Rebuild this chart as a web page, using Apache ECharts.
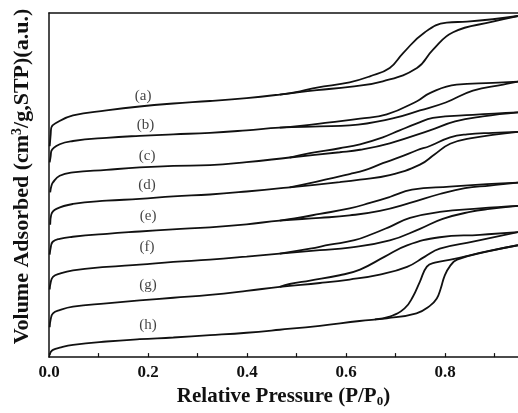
<!DOCTYPE html>
<html>
<head>
<meta charset="UTF-8">
<title>N2 isotherms</title>
<script src="https://cdn.jsdelivr.net/npm/echarts@6/dist/echarts.min.js"></script>
<style>
  html, body { margin: 0; padding: 0; background: #fff; }
  #chart { width: 518px; height: 413px; }
</style>
</head>
<body>
<div id="chart"></div>
<script>
// relative pressure (P/P0) and volume adsorbed (a.u., curves stacked with offsets)
// adsorption = lower branch, desorption = upper branch of the loop
var aAdsP = [0.0014, 0.0034, 0.0048, 0.015, 0.0485, 0.116, 0.183, 0.251, 0.325, 0.399, 0.466, 0.541, 0.607, 0.674, 0.743, 0.775, 0.816, 0.896, 0.947];
var aAdsV = [212, 224, 231, 235.7, 243, 248, 252, 255, 257.5, 260.5, 264, 268.5, 271.7, 277.3, 290.7, 309, 326.7, 337.3, 343];
var aDesP = [0.466, 0.507, 0.541, 0.607, 0.648, 0.688, 0.715, 0.759, 0.803, 0.844, 0.896, 0.947];
var aDesV = [264, 267.3, 271, 276.3, 282.3, 290.7, 305.7, 326.7, 336.3, 337.3, 339.7, 343];

var bAdsP = [0.0014, 0.0034, 0.0048, 0.0216, 0.0485, 0.116, 0.183, 0.251, 0.325, 0.399, 0.466, 0.547, 0.607, 0.694, 0.749, 0.801, 0.856, 0.917, 0.947];
var bAdsV = [195.7, 202, 207.3, 214, 217.3, 220.5, 222.5, 224, 225.5, 228, 230.7, 232, 233, 240, 248, 256, 268, 274, 277];
var bDesP = [0.466, 0.507, 0.567, 0.628, 0.682, 0.743, 0.769, 0.823, 0.896, 0.947];
var bDesV = [230.7, 232.5, 236, 239.7, 244, 257.3, 265.5, 274, 275.7, 277];

var cAdsP = [0.0024, 0.0048, 0.008, 0.0216, 0.0485, 0.116, 0.183, 0.251, 0.325, 0.399, 0.486, 0.587, 0.628, 0.688, 0.769, 0.82, 0.876, 0.947];
var cAdsV = [165.7, 172, 175.7, 182.3, 185.7, 188.3, 190.7, 192.3, 193, 196, 200.7, 206, 208.5, 215, 228, 237, 242, 246];
var cDesP = [0.486, 0.527, 0.587, 0.628, 0.674, 0.708, 0.743, 0.775, 0.856, 0.947];
var cDesV = [200.7, 205, 210, 214, 221, 228, 235, 240.5, 243.5, 246];

var dAdsP = [0.0024, 0.0044, 0.015, 0.0485, 0.116, 0.183, 0.251, 0.325, 0.399, 0.486, 0.587, 0.628, 0.688, 0.749, 0.779, 0.81, 0.85, 0.947];
var dAdsV = [133, 143, 149, 154, 157.3, 159, 161.7, 163.5, 166.5, 170.7, 176, 178.5, 183, 193.5, 204, 214.5, 220, 226.5];
var dDesP = [0.486, 0.527, 0.567, 0.607, 0.638, 0.674, 0.708, 0.743, 0.769, 0.81, 0.844, 0.896, 0.947];
var dDesV = [170.7, 175, 179.5, 184, 188, 195, 201, 208, 212.3, 221, 224, 225.5, 226.5];

var eAdsP = [0.0014, 0.0034, 0.0075, 0.0216, 0.0479, 0.117, 0.183, 0.25, 0.325, 0.399, 0.466, 0.547, 0.607, 0.668, 0.729, 0.789, 0.84, 0.89, 0.947];
var eAdsV = [103, 110, 116, 119, 121, 124, 126.3, 128.5, 130.5, 133.5, 137.3, 140, 142.5, 147, 155, 164, 170, 172.5, 175.5];
var eDesP = [0.466, 0.496, 0.547, 0.607, 0.648, 0.688, 0.733, 0.809, 0.884, 0.947];
var eDesV = [137.3, 139.5, 144, 149.5, 155, 161, 168.3, 171.5, 174, 175.5];

var fAdsP = [0.0014, 0.0034, 0.008, 0.0216, 0.0485, 0.116, 0.183, 0.251, 0.325, 0.399, 0.466, 0.547, 0.607, 0.688, 0.749, 0.795, 0.85, 0.89, 0.947];
var fAdsV = [68, 75, 80.7, 84, 87.3, 90.7, 93, 95.7, 98, 101, 104, 107.5, 110, 117.3, 129, 139, 146, 149, 152];
var fDesP = [0.466, 0.527, 0.567, 0.617, 0.654, 0.688, 0.729, 0.789, 0.87, 0.947];
var fDesV = [104, 109, 113, 117.5, 124, 131, 140, 146, 149.5, 152];

var gAdsP = [0.0014, 0.0034, 0.008, 0.0216, 0.0485, 0.116, 0.183, 0.251, 0.325, 0.399, 0.466, 0.547, 0.607, 0.668, 0.723, 0.759, 0.789, 0.856, 0.947];
var gAdsV = [30, 38, 44, 47.3, 50.7, 54, 57, 59.7, 62.5, 66.5, 70.7, 74.5, 78, 83, 90.7, 101, 109, 116, 125.7];
var gDesP = [0.466, 0.486, 0.527, 0.587, 0.628, 0.678, 0.723, 0.789, 0.87, 0.947];
var gDesV = [70.7, 73.5, 77, 82.3, 88, 101, 112.3, 120.5, 123, 125.7];

var hAdsP = [0.0014, 0.0034, 0.008, 0.0216, 0.0485, 0.116, 0.183, 0.251, 0.325, 0.399, 0.466, 0.547, 0.627, 0.682, 0.742, 0.769, 0.783, 0.791, 0.799, 0.809, 0.824, 0.884, 0.947];
var hAdsV = [2, 5, 7.3, 9.5, 12.3, 15.7, 18, 19.7, 22, 24.5, 27.5, 31.5, 36.3, 39, 44, 51.5, 59, 69, 82, 91, 98, 106, 112.5];
var hDesP = [0.658, 0.688, 0.718, 0.735, 0.749, 0.763, 0.779, 0.816, 0.884, 0.947];
var hDesV = [38, 40.7, 49, 61, 76, 91, 95, 98.5, 106.3, 112.5];

// curve tags
var tagNames = ['(a)', '(b)', '(c)', '(d)', '(e)', '(f)', '(g)', '(h)'];
var tagP = [0.19, 0.195, 0.198, 0.198, 0.2, 0.198, 0.2, 0.2];
var tagV = [262, 233, 202, 173, 142, 111, 72, 32];

var branches = [
  [aAdsP, aAdsV], [aDesP, aDesV],
  [bAdsP, bAdsV], [bDesP, bDesV],
  [cAdsP, cAdsV], [cDesP, cDesV],
  [dAdsP, dAdsV], [dDesP, dDesV],
  [eAdsP, eAdsV], [eDesP, eDesV],
  [fAdsP, fAdsV], [fDesP, fDesV],
  [gAdsP, gAdsV], [gDesP, gDesV],
  [hAdsP, hAdsV], [hDesP, hDesV]
];

var serif = 'Liberation Serif';

var series = branches.map(function (b) {
  return {
    type: 'line',
    data: b[0].map(function (p, i) { return [p, b[1][i]]; }),
    symbol: 'none',
    smooth: 0.45,
    lineStyle: { color: '#111', width: 1.8 },
    silent: true
  };
});

series.push({
  type: 'scatter',
  symbolSize: 1,
  itemStyle: { color: 'rgba(0,0,0,0)' },
  data: tagNames.map(function (n, i) { return { name: n, value: [tagP[i], tagV[i]] }; }),
  label: {
    show: true,
    position: 'inside',
    formatter: '{b}',
    fontFamily: serif,
    fontSize: 15,
    color: '#111'
  },
  silent: true
});

var chart = echarts.init(document.getElementById('chart'));
chart.setOption({
  animation: false,
  backgroundColor: '#fff',
  grid: { left: 49, top: 13, right: 0, bottom: 54 },
  xAxis: [{
    type: 'value',
    min: 0,
    max: 0.947,
    interval: 0.1,
    axisLine: { lineStyle: { color: '#111', width: 1.5 } },
    axisTick: { inside: true, length: 4, lineStyle: { color: '#111', width: 1.2 } },
    splitLine: { show: false },
    axisLabel: {
      margin: 7,
      showMaxLabel: false,
      fontFamily: serif,
      fontWeight: 'bold',
      fontSize: 17,
      color: '#111',
      formatter: function (v) {
        var k = Math.round(v * 10);
        return (k % 2 === 0 && Math.abs(v * 10 - k) < 1e-6) ? v.toFixed(1) : '';
      }
    },
    name: '{t|Relative Pressure (P/P}{sub|0}{t|)}',
    nameLocation: 'middle',
    nameGap: 27,
    nameTextStyle: {
      rich: {
        t: { fontFamily: serif, fontWeight: 'bold', fontSize: 21, color: '#111' },
        sub: { fontFamily: serif, fontWeight: 'bold', fontSize: 13, color: '#111', padding: [10, 0, 0, 0] }
      }
    }
  }, {
    type: 'value',
    position: 'top',
    min: 0,
    max: 0.947,
    axisLine: { show: true, lineStyle: { color: '#111', width: 1.5 } },
    axisTick: { show: false },
    axisLabel: { show: false },
    splitLine: { show: false }
  }],
  yAxis: {
    type: 'value',
    min: 0,
    max: 346,
    axisLine: { show: true, lineStyle: { color: '#111', width: 1.5 } },
    axisTick: { show: false },
    axisLabel: { show: false },
    splitLine: { show: false },
    name: '{t|Volume Adsorbed (cm}{sup|3}{t|/g,STP)(a.u.)}',
    nameLocation: 'middle',
    nameRotate: 90,
    nameGap: 15,
    nameTextStyle: {
      padding: [0, 0, 0, 17],
      rich: {
        t: { fontFamily: serif, fontWeight: 'bold', fontSize: 22, color: '#111' },
        sup: { fontFamily: serif, fontWeight: 'bold', fontSize: 14, color: '#111', padding: [0, 0, 10, 0] }
      }
    }
  },
  series: series
});
</script>
</body>
</html>
